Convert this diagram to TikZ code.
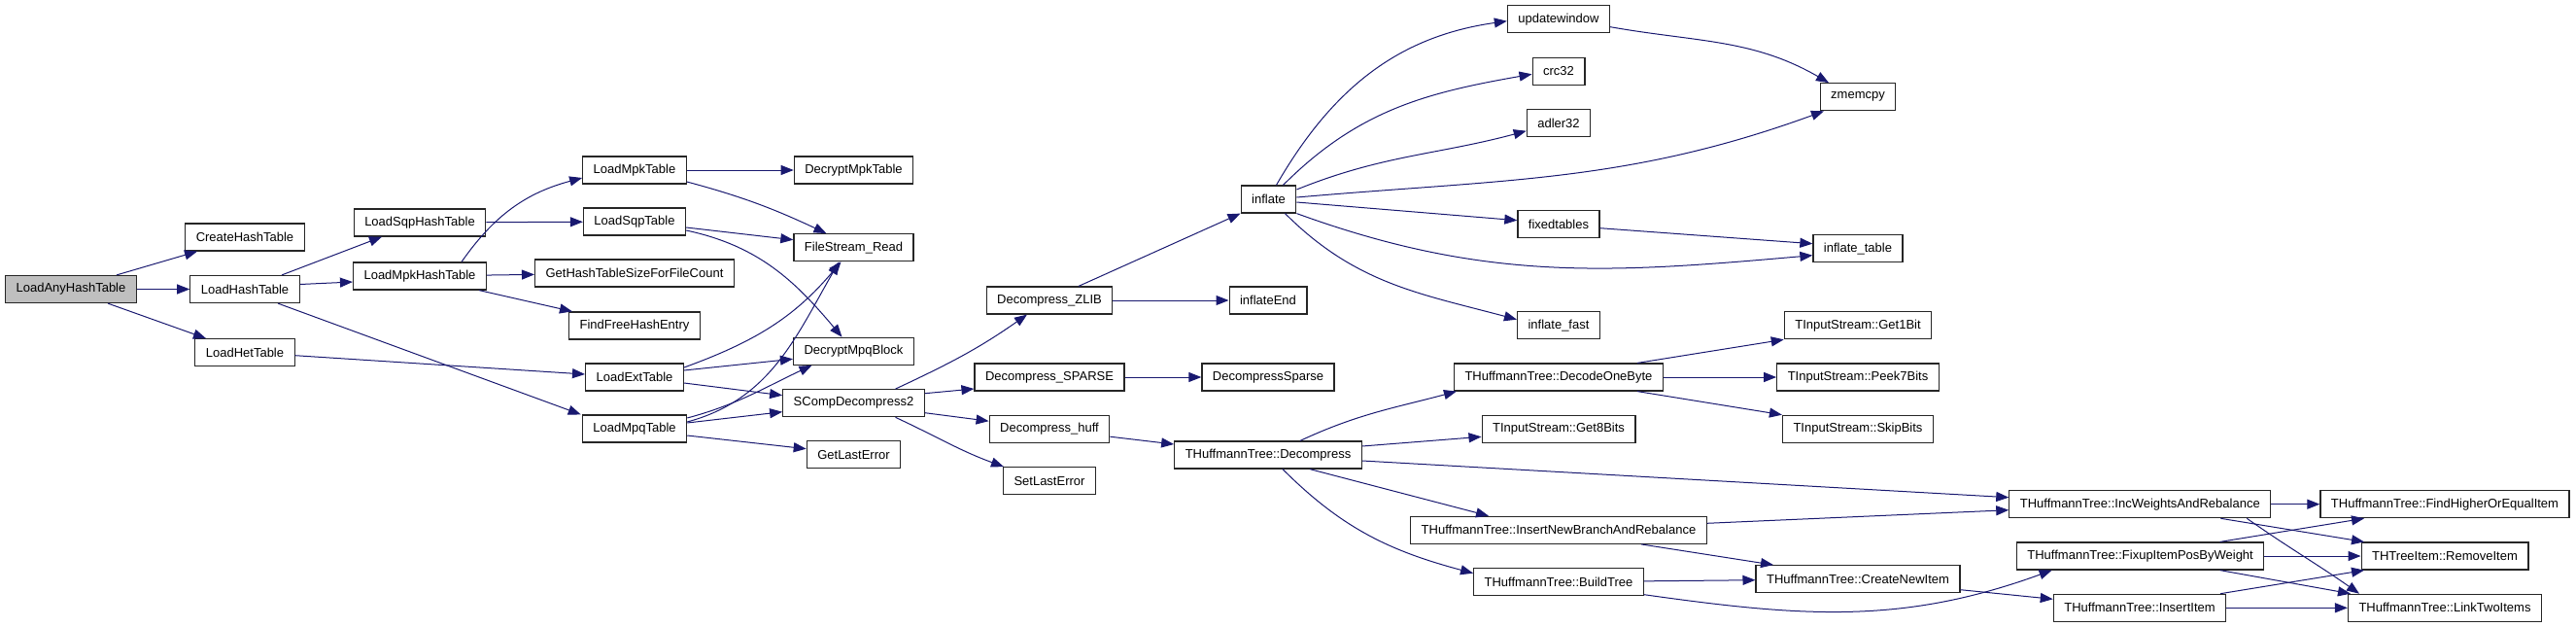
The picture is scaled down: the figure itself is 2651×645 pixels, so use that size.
\documentclass[tikz,border=0pt]{standalone}
\usepackage{fontspec}
\setmainfont{Liberation Sans}
\usetikzlibrary{arrows.meta}
\definecolor{edgeBlue}{HTML}{191970}
\definecolor{rootGrey}{HTML}{BFBFBF}

\begin{document}
\begin{tikzpicture}[
    x=1pt, y=-1pt,
    fn/.style={rectangle, draw=black!85, line width=1.2pt, fill=white,
               minimum height=28pt, inner xsep=11pt, inner ysep=0pt,
               font=\fontsize{13}{15}\selectfont},
    root/.style={fn, fill=rootGrey},
    call/.style={draw=edgeBlue, line width=1pt,
                 -{Triangle[length=13pt, width=10pt]}}
  ]
    \useasboundingbox (0,0) rectangle (2651,645);

    % functions, column by column
    \node[root] (any) at (73,297.5) {LoadAnyHashTable};
    \node[fn] (create) at (252,244) {CreateHashTable};
    \node[fn] (lhash) at (252,297.5) {LoadHashTable};
    \node[fn] (lhet) at (252,362.7) {LoadHetTable};
    \node[fn] (sqph) at (432,229) {LoadSqpHashTable};
    \node[fn] (mpkh) at (432,284) {LoadMpkHashTable};
    \node[fn] (mpkt) at (653,175) {LoadMpkTable};
    \node[fn] (sqpt) at (653,228) {LoadSqpTable};
    \node[fn] (hsize) at (653,281) {GetHashTableSizeForFileCount};
    \node[fn] (ffree) at (653,335) {FindFreeHashEntry};
    \node[fn] (extt) at (653,388) {LoadExtTable};
    \node[fn] (mpqt) at (653,441) {LoadMpqTable};
    \node[fn] (dmpk) at (878.5,175) {DecryptMpkTable};
    \node[fn] (fsr) at (878.5,254.7) {FileStream\_Read};
    \node[fn] (dmpq) at (878.5,361.3) {DecryptMpqBlock};
    \node[fn] (scd) at (878.5,414.7) {SCompDecompress2};
    \node[fn] (gle) at (878.5,467.7) {GetLastError};
    \node[fn] (dzl) at (1080,309) {Decompress\_ZLIB};
    \node[fn] (dsp) at (1080,388) {Decompress\_SPARSE};
    \node[fn] (dhf) at (1080,441.2) {Decompress\_huff};
    \node[fn] (sle) at (1080,494.7) {SetLastError};
    \node[fn] (infl) at (1305.5,205) {inflate};
    \node[fn] (iend) at (1305,309) {inflateEnd};
    \node[fn] (dcs) at (1305,388) {DecompressSparse};
    \node[fn] (htd) at (1305,468) {THuffmannTree::Decompress};
    \node[fn] (upw) at (1604,19.7) {updatewindow};
    \node[fn] (crc) at (1604,73.3) {crc32};
    \node[fn] (adl) at (1604,126.7) {adler32};
    \node[fn] (fixt) at (1604,230.7) {fixedtables};
    \node[fn] (ifast) at (1604,334.7) {inflate\_fast};
    \node[fn] (dob) at (1604,388) {THuffmannTree::DecodeOneByte};
    \node[fn] (g8) at (1604,441.3) {TInputStream::Get8Bits};
    \node[fn] (inb) at (1604,545.3) {THuffmannTree::InsertNewBranchAndRebalance};
    \node[fn] (btree) at (1604,598.7) {THuffmannTree::BuildTree};
    \node[fn] (zmc) at (1912,99.7) {zmemcpy};
    \node[fn] (itab) at (1912,255.7) {inflate\_table};
    \node[fn] (g1) at (1912,334.7) {TInputStream::Get1Bit};
    \node[fn] (p7) at (1912,388) {TInputStream::Peek7Bits};
    \node[fn] (skb) at (1912,441.3) {TInputStream::SkipBits};
    \node[fn] (cni) at (1912,595.7) {THuffmannTree::CreateNewItem};
    \node[fn] (iwr) at (2202.3,518.7) {THuffmannTree::IncWeightsAndRebalance};
    \node[fn] (fip) at (2202.6,572) {THuffmannTree::FixupItemPosByWeight};
    \node[fn] (ins) at (2202,625.3) {THuffmannTree::InsertItem};
    \node[fn] (fhe) at (2516,518.7) {THuffmannTree::FindHigherOrEqualItem};
    \node[fn] (rem) at (2516,572) {THTreeItem::RemoveItem};
    \node[fn] (lti) at (2516,625.3) {THuffmannTree::LinkTwoItems};

    % calls: hash table loading
    \draw[call] ([xshift=47pt]any.north) -- ([xshift=-49pt]create.south);
    \draw[call] (any) -- (lhash);
    \draw[call] ([xshift=38pt]any.south) -- ([xshift=-40pt]lhet.north);
    \draw[call] ([xshift=38pt]lhash.north) -- ([xshift=-39pt]sqph.south);
    \draw[call] ([yshift=5pt]lhash.east) -- ([yshift=-6pt]mpkh.west);
    \draw[call] ([xshift=34pt]lhash.south) -- ([xshift=-1pt]mpqt.north west);
    \draw[call] ([yshift=-3pt]lhet.east) -- ([yshift=3pt]extt.west);
    \draw[call] (sqph) -- (sqpt);
    \draw[call] ([xshift=43pt]mpkh.north) to[out=55, in=195] ([yshift=-8pt]mpkt.west);
    \draw[call] (mpkh) -- (hsize);
    \draw[call] ([xshift=61pt]mpkh.south) -- ([xshift=-64pt]ffree.north);

    % calls: table readers
    \draw[call] (mpkt) -- (dmpk);
    \draw[call] ([yshift=-12pt]mpkt.east) to[out=-15, in=155] ([xshift=-28pt]fsr.north);
    \draw[call] ([yshift=-6pt]sqpt.east) -- ([yshift=8pt]fsr.west);
    \draw[call] ([yshift=-9pt]sqpt.east) to[out=-12, in=130] ([xshift=-12pt]dmpq.north);
    \draw[call] ([yshift=10pt]extt.east) to[out=20, in=-130] ([xshift=-13pt]fsr.south);
    \draw[call] ([yshift=7pt]extt.east) -- ([yshift=-8pt]dmpq.west);
    \draw[call] ([yshift=-6pt]extt.east) -- ([yshift=8pt]scd.west);
    \draw[call] ([yshift=7pt]mpqt.east) to[out=15, in=-120] ([xshift=-15pt]fsr.south);
    \draw[call] ([yshift=11pt]mpqt.east) to[out=15, in=-155] ([xshift=-43pt]dmpq.south);
    \draw[call] ([yshift=6pt]mpqt.east) -- ([yshift=-9pt]scd.west);
    \draw[call] ([yshift=-7pt]mpqt.east) -- ([yshift=6pt]gle.west);

    % calls: decompression
    \draw[call] ([xshift=43pt]scd.north) to[out=25, in=-145] ([xshift=-23pt]dzl.south);
    \draw[call] ([yshift=10pt]scd.east) -- ([yshift=-12pt]dsp.west);
    \draw[call] ([yshift=-10pt]scd.east) -- ([yshift=8pt]dhf.west);
    \draw[call] ([xshift=43pt]scd.south) to[out=-25, in=160] ([xshift=-47pt]sle.north);
    \draw[call] ([xshift=30pt]dzl.north) -- (infl.south west);
    \draw[call] (dzl) -- (iend);
    \draw[call] (dsp) -- (dcs);
    \draw[call] ([yshift=-8pt]dhf.east) -- ([yshift=11pt]htd.west);

    % calls: zlib
    \draw[call] ([xshift=8pt]infl.north) to[out=60, in=188] ([yshift=-2pt]upw.west);
    \draw[call] ([xshift=15pt]infl.north) to[out=45, in=190] ([yshift=-3pt]crc.west);
    \draw[call] ([yshift=10pt]infl.east) to[out=22, in=195] ([yshift=-8pt]adl.west);
    \draw[call] ([yshift=2pt]infl.east) to[out=5, in=-160] ([xshift=-35pt]zmc.south);
    \draw[call] ([yshift=-3pt]infl.east) -- ([yshift=4pt]fixt.west);
    \draw[call] (infl.south east) to[out=-20, in=185] ([yshift=-7pt]itab.west);
    \draw[call] ([xshift=17pt]infl.south) to[out=-45, in=165] ([yshift=6pt]ifast.west);
    \draw[call] ([yshift=-8pt]upw.east) to[out=-10, in=150] ([xshift=-30pt]zmc.north);
    \draw[call] ([yshift=-4pt]fixt.east) -- ([yshift=5pt]itab.west);

    % calls: huffmann tree
    \draw[call] ([xshift=81pt]dob.north) -- (g1.south west);
    \draw[call] (dob) -- (p7);
    \draw[call] ([xshift=81pt]dob.south) -- (skb.north west);
    \draw[call] ([xshift=33pt]htd.north) to[out=25, in=195] ([xshift=3pt]dob.south west);
    \draw[call] ([yshift=9pt]htd.east) -- ([yshift=-8pt]g8.west);
    \draw[call] ([yshift=-6pt]htd.east) -- ([yshift=7pt]iwr.west);
    \draw[call] ([xshift=43pt]htd.south) -- ([xshift=-72pt]inb.north);
    \draw[call] ([xshift=15pt]htd.south) to[out=-45, in=165] ([yshift=9pt]btree.west);
    \draw[call] ([yshift=7pt]inb.east) -- ([yshift=-6pt]iwr.west);
    \draw[call] ([xshift=85pt]inb.south) -- ([xshift=-87pt]cni.north);
    \draw[call] (btree) -- (cni);
    \draw[call] ([yshift=-13pt]btree.east) to[out=-8, in=200] ([xshift=-91pt]fip.south);
    \draw[call] ([yshift=-11pt]cni.east) -- ([yshift=9pt]ins.west);
    \draw[call] (iwr) -- (fhe);
    \draw[call] ([xshift=83pt]iwr.south) -- ([xshift=-83pt]rem.north);
    \draw[call] ([xshift=110pt]iwr.south) to[out=-35, in=145] ([xshift=-88pt]lti.north);
    \draw[call] ([xshift=82pt]fip.north) -- ([xshift=-83pt]fhe.south);
    \draw[call] (fip) -- (rem);
    \draw[call] ([xshift=82pt]fip.south) -- ([xshift=-97pt]lti.north);
    \draw[call] ([xshift=83pt]ins.north) -- ([xshift=-83pt]rem.south);
    \draw[call] (ins) -- (lti);
  \end{tikzpicture}
\end{document}
